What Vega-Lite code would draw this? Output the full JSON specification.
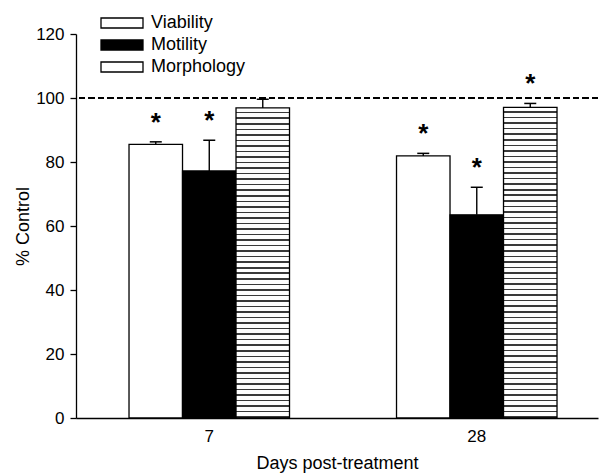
{
  "$schema": "https://vega.github.io/schema/vega-lite/v6.json",
  "autosize": {"type": "none"},
  "padding": {"left": 76, "top": 34, "right": 3, "bottom": 55},
  "width": 522,
  "height": 384,
  "config": {
    "view": {"stroke": null},
    "font": "Liberation Sans",
    "axis": {"grid": false, "domainColor": "#000", "domainWidth": 1.3, "tickColor": "#000", "tickWidth": 1.3, "labelColor": "#000", "titleColor": "#000", "labelFont": "Liberation Sans", "titleFont": "Liberation Sans", "titleFontWeight": "normal"}
  },
  "data": {
    "values": [
      {"day": "7", "measure": "Viability", "value": 85.5, "upper": 86.3, "sig": "*"},
      {"day": "7", "measure": "Motility", "value": 77.2, "upper": 86.8, "sig": "*"},
      {"day": "7", "measure": "Morphology", "value": 96.9, "upper": 99.6, "sig": ""},
      {"day": "28", "measure": "Viability", "value": 81.9, "upper": 82.7, "sig": "*"},
      {"day": "28", "measure": "Motility", "value": 63.5, "upper": 72.1, "sig": "*"},
      {"day": "28", "measure": "Morphology", "value": 97.1, "upper": 98.3, "sig": "*"}
    ]
  },
  "layer": [
    {
      "mark": {"type": "rule", "strokeDash": [6, 3.5], "strokeWidth": 1.9, "color": "#000"},
      "encoding": {"y": {"datum": 100, "type": "quantitative", "scale": {"domain": [0, 120], "nice": false}}}
    },
    {
      "mark": {"type": "bar", "stroke": "#000", "strokeWidth": 1.3},
      "encoding": {
        "x": {"field": "day", "type": "nominal", "sort": ["7", "28"],
              "scale": {"paddingInner": 0.4, "paddingOuter": 0.1757, "align": 0.564},
              "axis": {"title": "Days post-treatment", "labelAngle": 0, "ticks": false, "labelFontSize": 17, "labelPadding": 10, "titleFontSize": 18, "titlePadding": 10}},
        "xOffset": {"field": "measure", "type": "nominal", "sort": ["Viability", "Motility", "Morphology"], "scale": {"paddingInner": 0, "paddingOuter": 0}},
        "y": {"field": "value", "type": "quantitative", "scale": {"domain": [0, 120], "nice": false},
              "axis": {"title": "% Control", "values": [0, 20, 40, 60, 80, 100, 120], "tickSize": 6, "labelFontSize": 17, "labelPadding": 6, "titleFontSize": 18, "titlePadding": 3}},
        "fill": {
          "field": "measure", "type": "nominal",
          "scale": {"domain": ["Viability", "Motility", "Morphology"], "range": ["#fff", "#000", "#fff"]},
          "condition": {"test": "datum.measure === 'Morphology'", "value": {"gradient": "linear", "x1": 0, "y1": 0, "x2": 0, "y2": 1, "stops": [
{"offset":0,"color":"#fff"},{"offset":0.0129,"color":"#fff"},{"offset":0.0129,"color":"#3a3a3a"},{"offset":0.0179,"color":"#3a3a3a"},
{"offset":0.0179,"color":"#fff"},{"offset":0.0307,"color":"#fff"},{"offset":0.0307,"color":"#3a3a3a"},{"offset":0.0357,"color":"#3a3a3a"},
{"offset":0.0357,"color":"#fff"},{"offset":0.0486,"color":"#fff"},{"offset":0.0486,"color":"#3a3a3a"},{"offset":0.0536,"color":"#3a3a3a"},
{"offset":0.0536,"color":"#fff"},{"offset":0.0664,"color":"#fff"},{"offset":0.0664,"color":"#3a3a3a"},{"offset":0.0714,"color":"#3a3a3a"},
{"offset":0.0714,"color":"#fff"},{"offset":0.0843,"color":"#fff"},{"offset":0.0843,"color":"#3a3a3a"},{"offset":0.0893,"color":"#3a3a3a"},
{"offset":0.0893,"color":"#fff"},{"offset":0.1021,"color":"#fff"},{"offset":0.1021,"color":"#3a3a3a"},{"offset":0.1071,"color":"#3a3a3a"},
{"offset":0.1071,"color":"#fff"},{"offset":0.12,"color":"#fff"},{"offset":0.12,"color":"#3a3a3a"},{"offset":0.125,"color":"#3a3a3a"},
{"offset":0.125,"color":"#fff"},{"offset":0.1379,"color":"#fff"},{"offset":0.1379,"color":"#3a3a3a"},{"offset":0.1429,"color":"#3a3a3a"},
{"offset":0.1429,"color":"#fff"},{"offset":0.1557,"color":"#fff"},{"offset":0.1557,"color":"#3a3a3a"},{"offset":0.1607,"color":"#3a3a3a"},
{"offset":0.1607,"color":"#fff"},{"offset":0.1736,"color":"#fff"},{"offset":0.1736,"color":"#3a3a3a"},{"offset":0.1786,"color":"#3a3a3a"},
{"offset":0.1786,"color":"#fff"},{"offset":0.1914,"color":"#fff"},{"offset":0.1914,"color":"#3a3a3a"},{"offset":0.1964,"color":"#3a3a3a"},
{"offset":0.1964,"color":"#fff"},{"offset":0.2093,"color":"#fff"},{"offset":0.2093,"color":"#3a3a3a"},{"offset":0.2143,"color":"#3a3a3a"},
{"offset":0.2143,"color":"#fff"},{"offset":0.2271,"color":"#fff"},{"offset":0.2271,"color":"#3a3a3a"},{"offset":0.2321,"color":"#3a3a3a"},
{"offset":0.2321,"color":"#fff"},{"offset":0.245,"color":"#fff"},{"offset":0.245,"color":"#3a3a3a"},{"offset":0.25,"color":"#3a3a3a"},
{"offset":0.25,"color":"#fff"},{"offset":0.2629,"color":"#fff"},{"offset":0.2629,"color":"#3a3a3a"},{"offset":0.2679,"color":"#3a3a3a"},
{"offset":0.2679,"color":"#fff"},{"offset":0.2807,"color":"#fff"},{"offset":0.2807,"color":"#3a3a3a"},{"offset":0.2857,"color":"#3a3a3a"},
{"offset":0.2857,"color":"#fff"},{"offset":0.2986,"color":"#fff"},{"offset":0.2986,"color":"#3a3a3a"},{"offset":0.3036,"color":"#3a3a3a"},
{"offset":0.3036,"color":"#fff"},{"offset":0.3164,"color":"#fff"},{"offset":0.3164,"color":"#3a3a3a"},{"offset":0.3214,"color":"#3a3a3a"},
{"offset":0.3214,"color":"#fff"},{"offset":0.3343,"color":"#fff"},{"offset":0.3343,"color":"#3a3a3a"},{"offset":0.3393,"color":"#3a3a3a"},
{"offset":0.3393,"color":"#fff"},{"offset":0.3521,"color":"#fff"},{"offset":0.3521,"color":"#3a3a3a"},{"offset":0.3571,"color":"#3a3a3a"},
{"offset":0.3571,"color":"#fff"},{"offset":0.37,"color":"#fff"},{"offset":0.37,"color":"#3a3a3a"},{"offset":0.375,"color":"#3a3a3a"},
{"offset":0.375,"color":"#fff"},{"offset":0.3879,"color":"#fff"},{"offset":0.3879,"color":"#3a3a3a"},{"offset":0.3929,"color":"#3a3a3a"},
{"offset":0.3929,"color":"#fff"},{"offset":0.4057,"color":"#fff"},{"offset":0.4057,"color":"#3a3a3a"},{"offset":0.4107,"color":"#3a3a3a"},
{"offset":0.4107,"color":"#fff"},{"offset":0.4236,"color":"#fff"},{"offset":0.4236,"color":"#3a3a3a"},{"offset":0.4286,"color":"#3a3a3a"},
{"offset":0.4286,"color":"#fff"},{"offset":0.4414,"color":"#fff"},{"offset":0.4414,"color":"#3a3a3a"},{"offset":0.4464,"color":"#3a3a3a"},
{"offset":0.4464,"color":"#fff"},{"offset":0.4593,"color":"#fff"},{"offset":0.4593,"color":"#3a3a3a"},{"offset":0.4643,"color":"#3a3a3a"},
{"offset":0.4643,"color":"#fff"},{"offset":0.4771,"color":"#fff"},{"offset":0.4771,"color":"#3a3a3a"},{"offset":0.4821,"color":"#3a3a3a"},
{"offset":0.4821,"color":"#fff"},{"offset":0.495,"color":"#fff"},{"offset":0.495,"color":"#3a3a3a"},{"offset":0.5,"color":"#3a3a3a"},
{"offset":0.5,"color":"#fff"},{"offset":0.5129,"color":"#fff"},{"offset":0.5129,"color":"#3a3a3a"},{"offset":0.5179,"color":"#3a3a3a"},
{"offset":0.5179,"color":"#fff"},{"offset":0.5307,"color":"#fff"},{"offset":0.5307,"color":"#3a3a3a"},{"offset":0.5357,"color":"#3a3a3a"},
{"offset":0.5357,"color":"#fff"},{"offset":0.5486,"color":"#fff"},{"offset":0.5486,"color":"#3a3a3a"},{"offset":0.5536,"color":"#3a3a3a"},
{"offset":0.5536,"color":"#fff"},{"offset":0.5664,"color":"#fff"},{"offset":0.5664,"color":"#3a3a3a"},{"offset":0.5714,"color":"#3a3a3a"},
{"offset":0.5714,"color":"#fff"},{"offset":0.5843,"color":"#fff"},{"offset":0.5843,"color":"#3a3a3a"},{"offset":0.5893,"color":"#3a3a3a"},
{"offset":0.5893,"color":"#fff"},{"offset":0.6021,"color":"#fff"},{"offset":0.6021,"color":"#3a3a3a"},{"offset":0.6071,"color":"#3a3a3a"},
{"offset":0.6071,"color":"#fff"},{"offset":0.62,"color":"#fff"},{"offset":0.62,"color":"#3a3a3a"},{"offset":0.625,"color":"#3a3a3a"},
{"offset":0.625,"color":"#fff"},{"offset":0.6379,"color":"#fff"},{"offset":0.6379,"color":"#3a3a3a"},{"offset":0.6429,"color":"#3a3a3a"},
{"offset":0.6429,"color":"#fff"},{"offset":0.6557,"color":"#fff"},{"offset":0.6557,"color":"#3a3a3a"},{"offset":0.6607,"color":"#3a3a3a"},
{"offset":0.6607,"color":"#fff"},{"offset":0.6736,"color":"#fff"},{"offset":0.6736,"color":"#3a3a3a"},{"offset":0.6786,"color":"#3a3a3a"},
{"offset":0.6786,"color":"#fff"},{"offset":0.6914,"color":"#fff"},{"offset":0.6914,"color":"#3a3a3a"},{"offset":0.6964,"color":"#3a3a3a"},
{"offset":0.6964,"color":"#fff"},{"offset":0.7093,"color":"#fff"},{"offset":0.7093,"color":"#3a3a3a"},{"offset":0.7143,"color":"#3a3a3a"},
{"offset":0.7143,"color":"#fff"},{"offset":0.7271,"color":"#fff"},{"offset":0.7271,"color":"#3a3a3a"},{"offset":0.7321,"color":"#3a3a3a"},
{"offset":0.7321,"color":"#fff"},{"offset":0.745,"color":"#fff"},{"offset":0.745,"color":"#3a3a3a"},{"offset":0.75,"color":"#3a3a3a"},
{"offset":0.75,"color":"#fff"},{"offset":0.7629,"color":"#fff"},{"offset":0.7629,"color":"#3a3a3a"},{"offset":0.7679,"color":"#3a3a3a"},
{"offset":0.7679,"color":"#fff"},{"offset":0.7807,"color":"#fff"},{"offset":0.7807,"color":"#3a3a3a"},{"offset":0.7857,"color":"#3a3a3a"},
{"offset":0.7857,"color":"#fff"},{"offset":0.7986,"color":"#fff"},{"offset":0.7986,"color":"#3a3a3a"},{"offset":0.8036,"color":"#3a3a3a"},
{"offset":0.8036,"color":"#fff"},{"offset":0.8164,"color":"#fff"},{"offset":0.8164,"color":"#3a3a3a"},{"offset":0.8214,"color":"#3a3a3a"},
{"offset":0.8214,"color":"#fff"},{"offset":0.8343,"color":"#fff"},{"offset":0.8343,"color":"#3a3a3a"},{"offset":0.8393,"color":"#3a3a3a"},
{"offset":0.8393,"color":"#fff"},{"offset":0.8521,"color":"#fff"},{"offset":0.8521,"color":"#3a3a3a"},{"offset":0.8571,"color":"#3a3a3a"},
{"offset":0.8571,"color":"#fff"},{"offset":0.87,"color":"#fff"},{"offset":0.87,"color":"#3a3a3a"},{"offset":0.875,"color":"#3a3a3a"},
{"offset":0.875,"color":"#fff"},{"offset":0.8879,"color":"#fff"},{"offset":0.8879,"color":"#3a3a3a"},{"offset":0.8929,"color":"#3a3a3a"},
{"offset":0.8929,"color":"#fff"},{"offset":0.9057,"color":"#fff"},{"offset":0.9057,"color":"#3a3a3a"},{"offset":0.9107,"color":"#3a3a3a"},
{"offset":0.9107,"color":"#fff"},{"offset":0.9236,"color":"#fff"},{"offset":0.9236,"color":"#3a3a3a"},{"offset":0.9286,"color":"#3a3a3a"},
{"offset":0.9286,"color":"#fff"},{"offset":0.9414,"color":"#fff"},{"offset":0.9414,"color":"#3a3a3a"},{"offset":0.9464,"color":"#3a3a3a"},
{"offset":0.9464,"color":"#fff"},{"offset":0.9593,"color":"#fff"},{"offset":0.9593,"color":"#3a3a3a"},{"offset":0.9643,"color":"#3a3a3a"},
{"offset":0.9643,"color":"#fff"},{"offset":0.9771,"color":"#fff"},{"offset":0.9771,"color":"#3a3a3a"},{"offset":0.9821,"color":"#3a3a3a"},
{"offset":0.9821,"color":"#fff"},{"offset":0.995,"color":"#fff"},{"offset":0.995,"color":"#3a3a3a"},{"offset":1,"color":"#3a3a3a"}
          ]}},
          "legend": {
            "orient": "none", "legendX": 35, "legendY": -22, "title": null, "padding": 0,
            "symbolType": "M-2.1,-0.5H2.1V0.5H-2.1Z", "symbolSize": 400,
            "symbolStrokeColor": "#000", "symbolStrokeWidth": 1.3,
            "labelFontSize": 18, "labelColor": "#000", "labelFont": "Liberation Sans", "labelOffset": 18, "rowPadding": 2,
            "encode": {"symbols": {"update": {"fill": {"signal": "datum.value === 'Morphology' ? {gradient: 'linear', x1: 0, y1: 0, x2: 0, y2: 1, stops: [{offset: 0, color: '#fff'}, {offset: 0.3, color: '#fff'}, {offset: 0.3, color: '#333'}, {offset: 0.42, color: '#333'}, {offset: 0.42, color: '#fff'}, {offset: 0.58, color: '#fff'}, {offset: 0.58, color: '#333'}, {offset: 0.7, color: '#333'}, {offset: 0.7, color: '#fff'}, {offset: 1, color: '#fff'}]} : (datum.value === 'Motility' ? '#000' : '#fff')"}, "stroke": {"value": "#000"}, "opacity": {"value": 1}}}}
          }
        }
      }
    },
    {
      "mark": {"type": "rule", "color": "#000", "strokeWidth": 1.4},
      "encoding": {
        "x": {"field": "day", "type": "nominal", "sort": ["7", "28"]},
        "xOffset": {"field": "measure", "type": "nominal", "sort": ["Viability", "Motility", "Morphology"]},
        "y": {"field": "value", "type": "quantitative"},
        "y2": {"field": "upper"}
      }
    },
    {
      "mark": {"type": "tick", "color": "#000", "size": 12, "thickness": 1.5, "opacity": 1},
      "encoding": {
        "x": {"field": "day", "type": "nominal", "sort": ["7", "28"]},
        "xOffset": {"field": "measure", "type": "nominal", "sort": ["Viability", "Motility", "Morphology"]},
        "y": {"field": "upper", "type": "quantitative"}
      }
    },
    {
      "mark": {"type": "text", "fontSize": 26, "fontWeight": "bold", "baseline": "alphabetic", "align": "center", "dy": -11, "color": "#000", "font": "Liberation Sans"},
      "encoding": {
        "x": {"field": "day", "type": "nominal", "sort": ["7", "28"]},
        "xOffset": {"field": "measure", "type": "nominal", "sort": ["Viability", "Motility", "Morphology"]},
        "y": {"field": "upper", "type": "quantitative"},
        "text": {"field": "sig"}
      }
    }
  ]
}
